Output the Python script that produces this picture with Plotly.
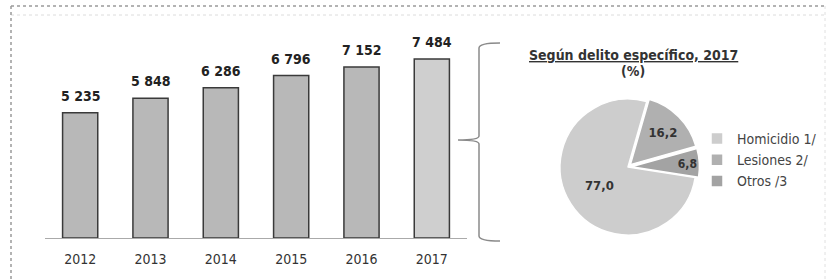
import plotly.graph_objects as go

years = ["2012", "2013", "2014", "2015", "2016", "2017"]
values = [5235, 5848, 6286, 6796, 7152, 7484]
value_labels = ["5 235", "5 848", "6 286", "6 796", "7 152", "7 484"]

pie_labels = ["Homicidio 1/", "Lesiones 2/", "Otros /3"]
pie_values = [77.0, 16.2, 6.8]
pie_text = ["77,0", "16,2", "6,8"]

W, H = 828, 279
FONT = "Liberation Sans Narrow, DejaVu Sans Condensed, Arial Narrow, sans-serif"

def px(x):
    return x / W

def py(y):
    return 1 - y / H

bar_colors = ["#b8b8b8"] * 5 + ["#cfcfcf"]

fig = go.Figure()
fig.add_trace(go.Bar(
    x=years, y=values,
    marker=dict(color=bar_colors, line=dict(color="#3a3a3a", width=1.5)),
    width=0.5, showlegend=False, hoverinfo="skip",
))

cx, cy, r = 628, 167, 68
maxpull = 0.05
half = r * (1 + maxpull)
# Lesiones starts ~16 deg clockwise from 12 o'clock; Homicidio (first slice) ends there
start_angle = 16 - 360 * pie_values[0] / 100
fig.add_trace(go.Pie(
    labels=pie_labels, values=pie_values, text=pie_text,
    textinfo="text", textposition="inside", insidetextorientation="horizontal",
    texttemplate="<b>%{text}</b>",
    textfont=dict(family=FONT, size=13, color="#333"),
    marker=dict(colors=["#cdcdcd", "#b0b0b0", "#a3a3a3"], line=dict(color="white", width=1.5)),
    pull=[0, 0.05, 0.05], sort=False, direction="clockwise", rotation=start_angle,
    domain=dict(x=[px(cx - half), px(cx + half)], y=[py(cy + half), py(cy - half)]),
    showlegend=True, hoverinfo="skip", automargin=False,
))

shapes = []
# outer frame
shapes.append(dict(type="line", xref="paper", yref="paper", x0=px(11), x1=px(825), y0=py(6), y1=py(6),
                   line=dict(color="#9a9a9a", width=1.5, dash="dot")))
shapes.append(dict(type="line", xref="paper", yref="paper", x0=px(11), x1=px(825), y0=py(15), y1=py(15),
                   line=dict(color="#dcdcdc", width=1, dash="dot")))
shapes.append(dict(type="line", xref="paper", yref="paper", x0=px(11), x1=px(11), y0=py(6), y1=py(279),
                   line=dict(color="#9a9a9a", width=1.5, dash="dot")))
shapes.append(dict(type="line", xref="paper", yref="paper", x0=px(825), x1=px(825), y0=py(6), y1=py(279),
                   line=dict(color="#e0e0e0", width=1, dash="dot")))
# brace
pts = "M {},{} Q {},{} {},{} L {},{} Q {},{} {},{} Q {},{} {},{} L {},{} Q {},{} {},{}".format(
    px(500), py(43), px(479), py(43), px(479), py(48),
    px(479), py(136), px(479), py(140), px(458), py(140),
    px(479), py(140), px(479), py(144),
    px(479), py(236), px(479), py(241), px(500), py(241))
shapes.append(dict(type="path", xref="paper", yref="paper", path=pts,
                   line=dict(color="#8a8a8a", width=1.5)))

# value labels above bars (category index on the x axis, value on the y axis)
annotations = [
    dict(x=i, y=v, xref="x", yref="y", text="<b>" + t + "</b>", showarrow=False,
         xanchor="center", yanchor="bottom", yshift=7,
         font=dict(family=FONT, size=14, color="#222"))
    for i, (v, t) in enumerate(zip(values, value_labels))
]
annotations += [
    dict(x=px(633), y=py(55), xref="paper", yref="paper", showarrow=False,
         xanchor="center", yanchor="middle",
         text="<b><u>Según delito específico, 2017</u></b>",
         font=dict(family=FONT, size=14, color="#333")),
    dict(x=px(633), y=py(71), xref="paper", yref="paper", showarrow=False,
         xanchor="center", yanchor="middle",
         text="<b>(%)</b>", font=dict(family=FONT, size=14, color="#333")),
]

fig.update_layout(
    width=W, height=H, margin=dict(l=0, r=0, t=0, b=0, autoexpand=False),
    paper_bgcolor="white", plot_bgcolor="white",
    font=dict(family=FONT, color="#333"),
    bargap=0.5,
    xaxis=dict(type="category", range=[-0.5, len(years) - 0.5], domain=[px(45), px(467)],
               showgrid=False, showline=True,
               linecolor="#aaaaaa", linewidth=1, ticks="", automargin=False, ticklabelstandoff=8,
               tickfont=dict(family=FONT, size=14, color="#333")),
    yaxis=dict(domain=[py(238), py(30)], range=[0, 8700], visible=False, automargin=False),
    shapes=shapes,
    annotations=annotations,
    legend=dict(x=px(697), y=py(123), xanchor="left", yanchor="top",
                traceorder="normal", font=dict(family=FONT, size=14, color="#444"),
                itemwidth=30, bgcolor="rgba(0,0,0,0)"),
)

fig.write_html("out.html", config={"displayModeBar": False},
               post_script="document.body.style.margin='0';")
